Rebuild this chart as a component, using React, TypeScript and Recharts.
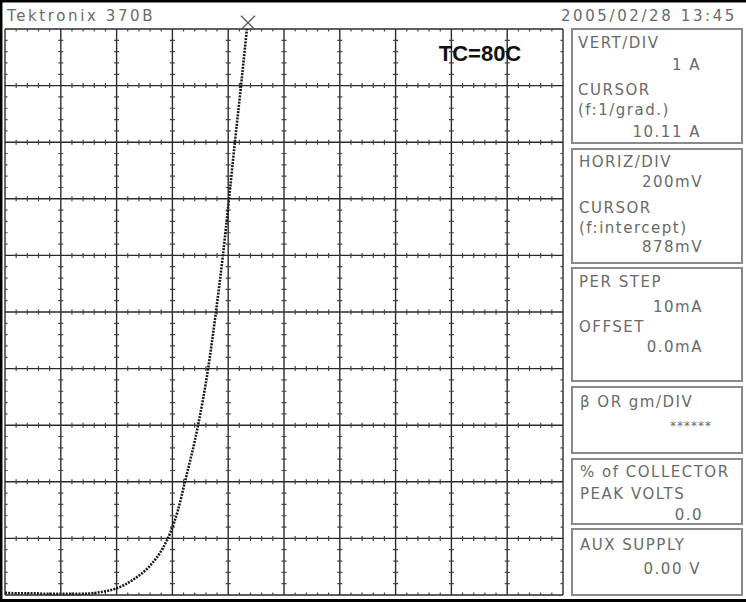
import React from "react";
import {
  LineChart,
  Line,
  XAxis,
  YAxis,
  CartesianGrid,
  ReferenceLine,
  ReferenceDot,
} from "recharts";

// ---- data ----
const voltage = [0, 0.05, 0.1, 0.15, 0.2, 0.269, 0.341, 0.401, 0.459, 0.52, 0.566, 0.594, 0.62, 0.645, 0.692, 0.728, 0.756, 0.781, 0.803, 0.824, 0.846, 0.867];
const current = [0.04, 0.03, 0.03, 0.02, 0.02, 0.02, 0.05, 0.12, 0.27, 0.52, 0.83, 1.12, 1.5, 2.0, 3.0, 4.0, 5.0, 6.0, 7.0, 8.0, 9.0, 10.0];

const xMajorTicks = [0, 0.2, 0.4, 0.6, 0.8, 1.0, 1.2, 1.4, 1.6, 1.8, 2.0];
const yMajorTicks = [0, 1, 2, 3, 4, 5, 6, 7, 8, 9, 10];
const xMinorTicks = [0.04, 0.08, 0.12, 0.16, 0.24, 0.28, 0.32, 0.36, 0.44, 0.48, 0.52, 0.56, 0.64, 0.68, 0.72, 0.76, 0.84, 0.88, 0.92, 0.96, 1.04, 1.08, 1.12, 1.16, 1.24, 1.28, 1.32, 1.36, 1.44, 1.48, 1.52, 1.56, 1.64, 1.68, 1.72, 1.76, 1.84, 1.88, 1.92, 1.96];
const yMinorTicks = [0.2, 0.4, 0.6, 0.8, 1.2, 1.4, 1.6, 1.8, 2.2, 2.4, 2.6, 2.8, 3.2, 3.4, 3.6, 3.8, 4.2, 4.4, 4.6, 4.8, 5.2, 5.4, 5.6, 5.8, 6.2, 6.4, 6.6, 6.8, 7.2, 7.4, 7.6, 7.8, 8.2, 8.4, 8.6, 8.8, 9.2, 9.4, 9.6, 9.8];

const cursorVoltage = 0.871;
const cursorCurrent = 10.11;

const titleText = "Tektronix 370B";
const dateText = "2005/02/28 13:45";
const tempText = "TC=80C";
const vertLines = ["VERT/DIV", "1 A", "CURSOR", "(f:1/grad.)", "10.11 A"];
const horizLines = ["HORIZ/DIV", "200mV", "CURSOR", "(f:intercept)", "878mV"];
const stepLines = ["PER STEP", "10mA", "OFFSET", "0.0mA"];
const betaLines = ["β OR gm/DIV", "******"];
const peakLines = ["% of COLLECTOR", "PEAK VOLTS", "0.0"];
const auxLines = ["AUX SUPPLY", "0.00 V"];

const chartData = voltage.map((v, i) => ({ v, a: current[i] }));

const W = 746;
const H = 602;
const M = { top: 29, right: 183, bottom: 7, left: 5 };
const plotW = W - M.left - M.right;
const plotH = H - M.top - M.bottom;
const divW = plotW / 10;
const divH = plotH / 10;
const tick = 2.5;

const CrossShape = (props: any) => {
  const { cx, cy } = props;
  const s = 7;
  return (
    <g stroke="#555" strokeWidth={1.3}>
      <line x1={cx - s} y1={cy - s} x2={cx + s} y2={cy + s} />
      <line x1={cx - s} y1={cy + s} x2={cx + s} y2={cy - s} />
    </g>
  );
};

const panelFont: React.CSSProperties = {
  fontFamily: "'DejaVu Sans', sans-serif",
  fontSize: 15,
  letterSpacing: 1.5,
};
const headerFont: React.CSSProperties = {
  fontFamily: "'DejaVu Sans', sans-serif",
  fontSize: 15,
  letterSpacing: 2.6,
};
const TXT = "#6a6a6a";

export default function App() {
  return (
    <div
      style={{
        position: "absolute",
        left: 0,
        top: 0,
        width: W,
        height: H,
        background: "#fff",
        overflow: "hidden",
      }}
    >
      <LineChart width={W} height={H} data={chartData} margin={M}>
        <XAxis type="number" dataKey="v" domain={[0, 2]} ticks={xMajorTicks} hide />
        <YAxis type="number" domain={[0, 10]} ticks={yMajorTicks} hide />
        <CartesianGrid stroke="#2a2a2a" strokeWidth={1.4} />
        {xMinorTicks.map((x) => (
          <ReferenceLine
            key={"xm" + x}
            x={x}
            stroke="#444"
            strokeWidth={1.2}
            strokeDasharray={`${tick} ${divH - 2 * tick} ${tick} 0`}
          />
        ))}
        {yMinorTicks.map((y) => (
          <ReferenceLine
            key={"ym" + y}
            y={y}
            stroke="#444"
            strokeWidth={1.2}
            strokeDasharray={`${tick} ${divW - 2 * tick} ${tick} 0`}
          />
        ))}
        <Line
          type="monotone"
          dataKey="a"
          stroke="#1a1a1a"
          strokeWidth={2.6}
          strokeDasharray="2 1.2"
          dot={false}
          isAnimationActive={false}
        />
        <ReferenceDot
          x={cursorVoltage}
          y={cursorCurrent}
          ifOverflow="visible"
          shape={CrossShape}
        />
      </LineChart>
      <svg
        width={W}
        height={H}
        style={{ position: "absolute", left: 0, top: 0, pointerEvents: "none" }}
      >
        {/* outer frame */}
        <line x1={0} y1={1.2} x2={W} y2={1.2} stroke="#000" strokeWidth={2.5} />
        <line x1={1.2} y1={0} x2={1.2} y2={H} stroke="#000" strokeWidth={2.5} />
        <line x1={0} y1={600.5} x2={W} y2={600.5} stroke="#000" strokeWidth={3} />

        <text x={7} y={21} fill={TXT} style={headerFont}>{titleText}</text>
        <text x={737} y={21} fill={TXT} textAnchor="end" style={headerFont}>{dateText}</text>
        <text
          x={480}
          y={61}
          textAnchor="middle"
          fill="#111"
          style={{ fontFamily: "'Liberation Sans', Arial, sans-serif", fontWeight: 700, fontSize: 22 }}
        >
          {tempText}
        </text>

        <g fill="none" stroke="#8a8a8a" strokeWidth={2}>
          <rect x={572} y={29} width={170} height={114} />
          <rect x={572} y={149} width={170} height={114} />
          <rect x={572} y={268} width={170} height={113} />
          <rect x={572} y={387} width={170} height={66} />
          <rect x={572} y={459} width={170} height={65} />
          <rect x={572} y={529} width={170} height={66} />
        </g>

        <g fill={TXT} style={panelFont}>
          <text x={578} y={48}>{vertLines[0]}</text>
          <text x={701} y={70} textAnchor="end">{vertLines[1]}</text>
          <text x={578} y={95}>{vertLines[2]}</text>
          <text x={578} y={115}>{vertLines[3]}</text>
          <text x={701} y={137} textAnchor="end">{vertLines[4]}</text>

          <text x={579} y={167}>{horizLines[0]}</text>
          <text x={703} y={187} textAnchor="end">{horizLines[1]}</text>
          <text x={579} y={213}>{horizLines[2]}</text>
          <text x={579} y={233}>{horizLines[3]}</text>
          <text x={703} y={252} textAnchor="end">{horizLines[4]}</text>

          <text x={579} y={287}>{stepLines[0]}</text>
          <text x={703} y={312} textAnchor="end">{stepLines[1]}</text>
          <text x={579} y={332}>{stepLines[2]}</text>
          <text x={703} y={352} textAnchor="end">{stepLines[3]}</text>

          <text x={580} y={407}>{betaLines[0]}</text>
          <text x={712} y={430} textAnchor="end" style={{ fontSize: 12, letterSpacing: 1 }}>{betaLines[1]}</text>

          <text x={580} y={477}>{peakLines[0]}</text>
          <text x={580} y={499}>{peakLines[1]}</text>
          <text x={703} y={520} textAnchor="end">{peakLines[2]}</text>

          <text x={580} y={550}>{auxLines[0]}</text>
          <text x={701} y={574} textAnchor="end">{auxLines[1]}</text>
        </g>
      </svg>
    </div>
  );
}
